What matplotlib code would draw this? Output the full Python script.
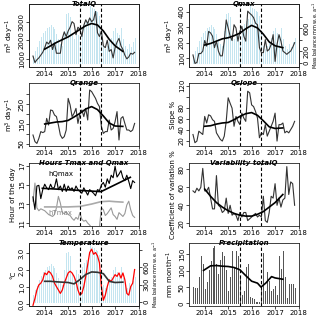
import numpy as np
import pandas as pd
import matplotlib
matplotlib.use("Agg")
import matplotlib.pyplot as plt

# monthly series, Jul 2013 .. Nov 2017
months = pd.date_range("2013-07-01", periods=53, freq="MS")

total_q = [
    1150, 800, 950, 1050, 1200, 1350, 1600, 1900, 1800, 2000, 1500, 1850,
    1300, 1300, 1300, 2100, 2450, 2200, 2500, 2700, 3000, 2900, 2300, 2700,
    2600, 2200, 2800, 3100, 2900, 3200, 3000, 3100, 3550, 2400, 2200, 2500,
    1700, 1600, 2000, 1400, 1500, 1050, 1600, 1900, 2100, 1700, 1500, 1200,
    1000, 1100, 1300, 1250, 1350
]

q_max = [
    121, 66, 72, 130, 130, 146, 214, 178, 273, 263, 242, 168,
    210, 146, 115, 115, 210, 347, 295, 242, 214, 316, 295, 210,
    273, 305, 242, 210, 404, 390, 379, 362, 326, 316, 168, 136,
    136, 220, 146, 157, 189, 252, 79, 189, 252, 210, 146, 136,
    125, 136, 146, 170, 200
]

q_range = [
    95, 62, 53, 78, 112, 107, 112, 178, 145, 220, 217, 195,
    187, 145, 95, 78, 87, 120, 278, 245, 187, 203, 228, 153,
    203, 220, 187, 228, 170, 320, 312, 295, 278, 253, 237, 137,
    103, 112, 112, 170, 120, 128, 162, 212, 70, 178, 187, 153,
    120, 120, 112, 120, 153
]

q_slope = [
    31, 16, 19, 37, 34, 31, 64, 52, 67, 65, 58, 55,
    34, 28, 22, 19, 28, 55, 98, 88, 79, 46, 64, 55,
    49, 70, 61, 55, 110, 107, 85, 82, 73, 61, 25, 34,
    31, 49, 28, 37, 46, 55, 70, 19, 49, 49, 52, 34,
    37, 34, 40, 46, 55
]

h_qmax = [
    13.75, 12.43, 14.89, 14.96, 13.57, 14.51, 15.08, 14.70, 14.51, 15.08, 14.62, 14.77,
    15.64, 14.51, 14.89, 14.32, 15.08, 14.32, 14.89, 14.51, 14.70, 14.32, 14.89, 14.51,
    14.32, 14.13, 14.70, 14.32, 13.94, 14.51, 14.32, 14.13, 13.87, 14.51, 14.40, 15.00,
    15.26, 14.77, 15.64, 15.15, 16.02, 15.75, 16.96, 15.83, 16.13, 16.50, 15.75, 15.45,
    16.02, 15.38, 14.62, 15.45, 15.26
]

h_tmax = [
    13.3, 15.2, 12.6, 12.3, 12.5, 12.4, 12.3, 12.1, 11.9, 11.8, 11.7, 11.9,
    12.6, 13.8, 13.1, 12.1, 12.0, 12.2, 11.9, 11.8, 11.5, 11.3, 11.6, 11.4,
    12.1, 11.4, 11.2, 11.3, 11.0, 10.8, 10.5, 10.3, 10.2, 10.4, 10.6, 12.6,
    12.4, 11.8, 12.0, 12.3, 12.6, 11.9, 11.7, 11.4, 12.1, 11.9, 11.7, 12.0,
    12.9, 13.3, 12.4, 11.8, 11.6
]

cv_total_q = [
    56, 54, 59, 56, 60, 81, 56, 56, 60, 48, 36, 36,
    73, 40, 38, 32, 34, 48, 31, 40, 29, 31, 29, 23,
    32, 27, 32, 32, 23, 25, 27, 29, 31, 27, 29, 27,
    50, 23, 21, 32, 50, 48, 64, 40, 48, 38, 46, 48,
    83, 52, 66, 64, 40
]

temperature = [
    -0.06, 0.34, 0.84, 1.14, 1.24, 1.44, 1.84, 1.74, 1.94, 1.84, 1.64, 1.24,
    1.04, 0.84, 0.64, 0.84, 1.24, 1.54, 1.84, 1.94, 1.84, 1.64, 1.34, 0.84,
    0.54, 0.64, 1.04, 1.64, 2.34, 3.04, 3.24, 2.94, 3.04, 2.84, 2.44, 1.04,
    0.24, 0.54, 1.04, 1.44, 1.34, 1.54, 1.74, 1.64, 1.84, 1.54, 1.84, 1.44,
    0.64, 0.54, 1.04, 1.24, 2.04
]

precipitation = [
    50, 46, 46, 82, 146, 120, 43, 64, 101, 131, 170, 175,
    122, 90, 133, 156, 144, 101, 37, 80, 160, 112, 160, 144,
    80, 27, 37, 112, 122, 21, 16, 13, 5, 3, 5, 53,
    154, 37, 96, 69, 37, 43, 53, 27, 144, 106, 160, 80,
    16, 59, 59, 59, 48
]

mass_balance = [
    120, 200, 280, 380, 450, 520, 560, 600, 620, 650, 620, 580,
    500, 420, 330, 300, 560, 850, 860, 800, 500, 420, 560, 480,
    380, 600, 680, 720, 760, 980, 950, 930, 900, 880, 820, 500,
    300, 250, 300, 380, 440, 560, 600, 520, 480, 600, 420, 300,
    250, 320, 280, 360, 430
]

# smoothed trends
smooth_years = [2014.0, 2014.25, 2014.5, 2014.75, 2015.0, 2015.25, 2015.5,
                2015.75, 2016.0, 2016.25, 2016.5, 2016.75, 2017.0, 2017.33]
total_q_smooth = [1520, 1700, 1880, 2030, 2180, 2380, 2580, 2780, 2900, 2820, 2500, 2050, 1700, 1400]
q_max_smooth = [185, 195, 210, 225, 232, 245, 262, 290, 312, 295, 255, 205, 180, 168]
q_range_smooth = [150, 155, 160, 162, 168, 185, 203, 225, 237, 222, 190, 155, 140, 138]
q_slope_smooth = [46, 47, 50, 52, 53, 58, 64, 69, 71, 66, 56, 45, 42, 43]
cv_smooth = [58, 50, 43, 38, 34, 31, 29, 28, 28, 30, 33, 38, 43, 52]
temp_smooth = [1.35, 1.35, 1.32, 1.30, 1.28, 1.20, 1.45, 1.75, 1.90, 1.88, 1.80, 1.35, 1.28, 1.30]
precip_smooth_years = [2013.95, 2014.25, 2014.5, 2014.75, 2015.0, 2015.25, 2015.5, 2015.75,
                       2016.0, 2016.25, 2016.4, 2016.6, 2016.85, 2017.0, 2017.33]
precip_smooth = [101, 115, 116, 114, 113, 110, 103, 85, 68, 62, 50, 62, 82, 78, 74]
hq_trend_years = [2013.9, 2016.4, 2017.65]
hq_trend = [14.65, 14.3, 15.8]
ht_trend_years = [2014.0, 2014.5, 2015.0, 2015.5, 2016.0, 2016.4, 2016.75, 2017.0, 2017.33]
ht_trend = [12.7, 12.7, 12.7, 12.75, 13.0, 13.25, 13.3, 13.25, 13.2]

breaks = [2015.52, 2016.40]

years = months.year + (months.month - 1) / 12.0

FS = 5
LINE = "#333333"
BLUE = "#c4e5f0"


def style_axis(ax, title, ylabel, ylim, yticks, ylabels=None):
    ax.set_xlim(2013.33, 2018.02)
    ax.set_xticks([2014, 2015, 2016, 2017, 2018])
    ax.set_ylim(*ylim)
    ax.set_yticks(yticks)
    if ylabels is not None:
        ax.set_yticklabels(ylabels)
    ax.tick_params(direction="out", length=2, width=0.5, pad=1, labelsize=FS)
    for lab in ax.get_yticklabels():
        lab.set_rotation(90)
        lab.set_va("center")
    for s in ax.spines.values():
        s.set_linewidth(0.6)
        s.set_color("#222222")
    ax.text(0.5, 1.0, title, transform=ax.transAxes, ha="center", va="center",
            fontsize=FS, fontweight="bold", fontstyle="italic", zorder=6)
    ax.set_ylabel(ylabel, fontsize=FS, labelpad=2)
    for b in breaks:
        ax.axvline(b, color="black", linestyle=(0, (3, 2)), linewidth=0.8, zorder=4)


def mass_balance_bars(ax, ticks=None, labels=None):
    ax2 = ax.twinx()
    ax2.vlines(years, 0, mass_balance, color=BLUE, linewidth=0.72,
               antialiased=False, zorder=0)
    ax2.set_ylim(-70, 1020)
    ax.set_zorder(ax2.get_zorder() + 1)
    ax.patch.set_visible(False)
    if ticks is None:
        ax2.set_yticks([])
    else:
        ax2.set_yticks(ticks)
        ax2.set_yticklabels(labels)
        ax2.tick_params(direction="out", length=2, width=0.5, pad=1, labelsize=FS)
        for lab in ax2.get_yticklabels():
            lab.set_rotation(90)
            lab.set_va("center")
        ax2.set_ylabel("Mass balance mm w.e. a$^{-1}$", fontsize=3.5, labelpad=1)
    for s in ax2.spines.values():
        s.set_linewidth(0.6)
    return ax2


fig = plt.figure(figsize=(3.2, 3.21), dpi=100)

lefts = [29 / 320, 189 / 320]
w = 110 / 320
bottoms = [1 - 67 / 321, 1 - 146 / 321, 1 - 226 / 321, 1 - 306 / 321]
h = 63 / 321

ax = fig.add_axes([lefts[0], bottoms[0], w, h])
mass_balance_bars(ax)
ax.plot(years, total_q, color=LINE, linewidth=0.8)
ax.plot(smooth_years, total_q_smooth, color="black", linewidth=1.2)
style_axis(ax, "TotalQ", "m$^3$ day$^{-1}$", (560, 3950), [1000, 2000, 3000])

ax = fig.add_axes([lefts[1], bottoms[0], w, h])
mass_balance_bars(ax, [0, 200, 400, 600, 800], ["0", "200", "", "600", ""])
ax.plot(years, q_max, color=LINE, linewidth=0.8)
ax.plot(smooth_years, q_max_smooth, color="black", linewidth=1.2)
style_axis(ax, "Qmax", "m$^3$ day$^{-1}$", (43, 450), [100, 200, 300, 400])

ax = fig.add_axes([lefts[0], bottoms[1], w, h])
ax.plot(years, q_range, color=LINE, linewidth=0.8)
ax.plot(smooth_years, q_range_smooth, color="black", linewidth=1.2)
style_axis(ax, "Qrange", "m$^3$ day$^{-1}$", (40, 355), [50, 100, 150, 200, 250, 300],
           ["50", "", "150", "", "250", ""])

ax = fig.add_axes([lefts[1], bottoms[1], w, h])
ax.plot(years, q_slope, color=LINE, linewidth=0.8)
ax.plot(smooth_years, q_slope_smooth, color="black", linewidth=1.2)
style_axis(ax, "Qslope", "Slope %", (10, 125), [20, 40, 60, 80, 100, 120],
           ["20", "40", "60", "80", "", "120"])

ax = fig.add_axes([lefts[0], bottoms[2], w, h])
ax.plot(years, h_tmax, color="#999999", linewidth=0.8)
ax.plot(ht_trend_years, ht_trend, color="#aaaaaa", linewidth=1.2)
ax.plot(years, h_qmax, color="black", linewidth=0.8)
ax.plot(hq_trend_years, hq_trend, color="black", linewidth=1.2)
ax.text(2014.15, 15.9, "hQmax", fontsize=FS, color="black")
ax.text(2014.15, 11.8, "hTmax", fontsize=FS, color="#888888")
style_axis(ax, "Hours Tmax and Qmax", "Hour of the day", (10.7, 17.3), [11, 13, 15, 17])

ax = fig.add_axes([lefts[1], bottoms[2], w, h])
ax.plot(years, cv_total_q, color=LINE, linewidth=0.8)
ax.plot(smooth_years, cv_smooth, color="black", linewidth=1.2)
style_axis(ax, "Variability totalQ", "Coefficient of variation %", (17, 87), [20, 40, 60, 80])

ax = fig.add_axes([lefts[0], bottoms[3], w, h])
mass_balance_bars(ax, [0, 300, 600, 900], ["0", "300", "600", ""])
ax.plot(years, temperature, color="red", linewidth=0.9)
ax.plot(smooth_years, temp_smooth, color="#333333", linewidth=1.2)
style_axis(ax, "Temperature", "°C", (-0.1, 3.6), [0.0, 1.0, 2.0, 3.0],
           ["0.0", "1.0", "2.0", "3.0"])

ax = fig.add_axes([lefts[1], bottoms[3], w, h])
ax.vlines(years, 0, precipitation, color="#555555", linewidth=0.72, antialiased=False)
ax.plot(precip_smooth_years, precip_smooth, color="black", linewidth=1.2)
style_axis(ax, "Precipitation", "mm month$^{-1}$", (-8, 185), [0, 50, 100, 150])

fig.savefig("out.png", dpi=100)
